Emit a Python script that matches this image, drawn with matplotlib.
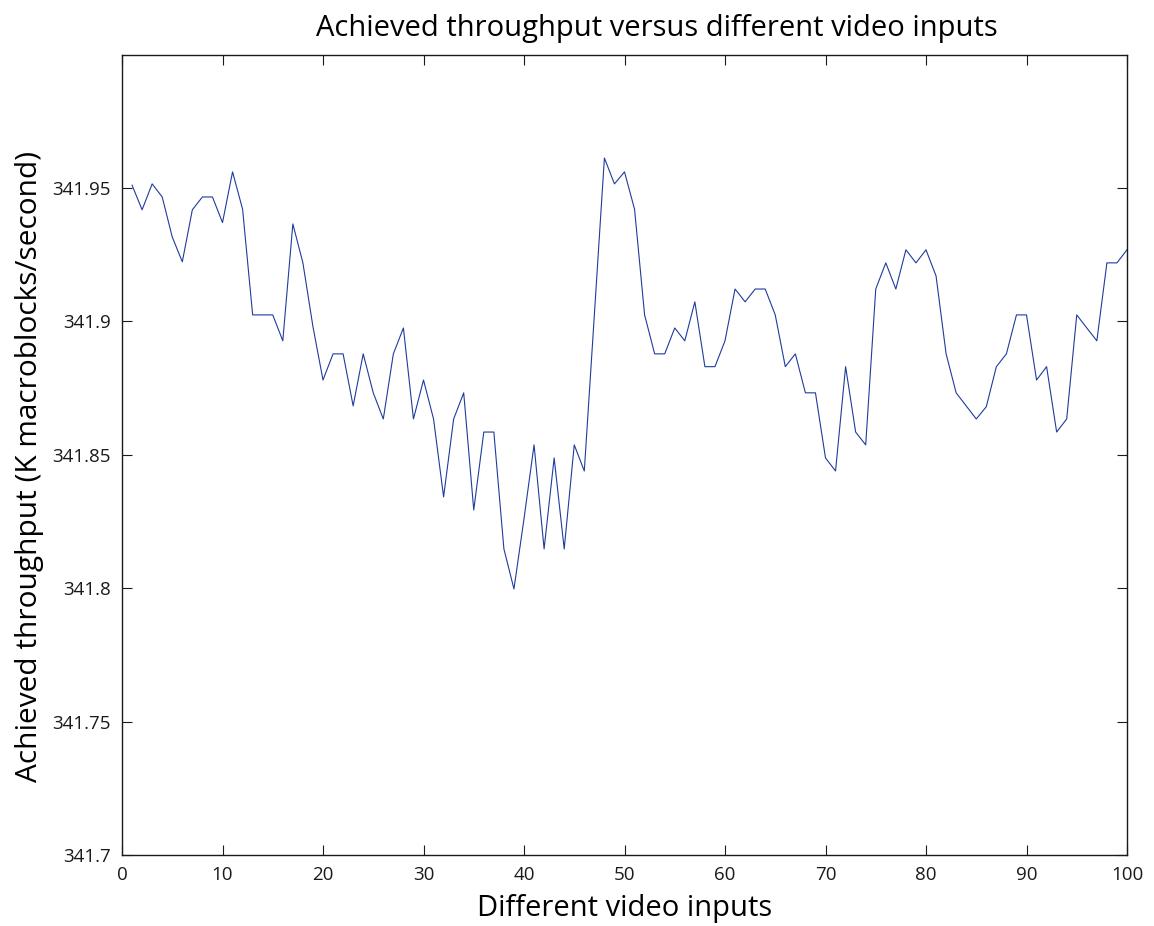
import matplotlib
matplotlib.use('Agg')
import matplotlib.pyplot as plt

video_inputs = list(range(1, 101))
throughput = [
    341.9510, 341.9418, 341.9515, 341.9466, 341.9316, 341.9223, 341.9418, 341.9466, 341.9466, 341.9370,
    341.9560, 341.9420, 341.9024, 341.9024, 341.9024, 341.8927, 341.9365, 341.9219, 341.8980, 341.8780,
    341.8878, 341.8878, 341.8683, 341.8878, 341.8732, 341.8634, 341.8878, 341.8975, 341.8634, 341.8780,
    341.8634, 341.8342, 341.8634, 341.8732, 341.8293, 341.8585, 341.8585, 341.8147, 341.7997, 341.8260,
    341.8537, 341.8147, 341.8488, 341.8147, 341.8537, 341.8439, 341.9024, 341.9612, 341.9515, 341.9560,
    341.9420, 341.9024, 341.8878, 341.8878, 341.8975, 341.8927, 341.9073, 341.8830, 341.8830, 341.8927,
    341.9121, 341.9073, 341.9121, 341.9121, 341.9024, 341.8830, 341.8878, 341.8732, 341.8732, 341.8488,
    341.8439, 341.8830, 341.8585, 341.8537, 341.9121, 341.9219, 341.9121, 341.9268, 341.9219, 341.9268,
    341.9170, 341.8878, 341.8732, 341.8683, 341.8634, 341.8680, 341.8830, 341.8878, 341.9024, 341.9024,
    341.8780, 341.8830, 341.8585, 341.8634, 341.9024, 341.8975, 341.8927, 341.9219, 341.9219, 341.9268,
]
x_ticks = [0, 10, 20, 30, 40, 50, 60, 70, 80, 90, 100]
y_ticks = [341.7, 341.75, 341.8, 341.85, 341.9, 341.95]
y_ticklabels = ['341.7', '341.75', '341.8', '341.85', '341.9', '341.95']

plt.rcParams['font.family'] = ['Open Sans', 'DejaVu Sans']

fig = plt.figure(figsize=(11.54, 9.26), dpi=100)
ax = fig.add_axes([122 / 1154, 1 - 855 / 926, (1127 - 122) / 1154, (855 - 55) / 926])

ax.plot(video_inputs, throughput, color='#1f3c9c', linewidth=0.8)

ax.set_xlim(0, 100)
ax.set_ylim(341.7, 341.9998)
ax.set_xticks(x_ticks)
ax.set_yticks(y_ticks)
ax.set_yticklabels(y_ticklabels)
ax.tick_params(direction='in', length=7.5, width=0.8, top=True, right=True,
               labelsize=13.5, pad=8, colors='#1a1a1a')
for spine in ax.spines.values():
    spine.set_linewidth(1.0)
    spine.set_color('#1a1a1a')

# title sits a little right of the axes centre in the original
ax.set_title('Achieved throughput versus different video inputs', fontsize=21, pad=14, x=0.532)
ax.set_xlabel('Different video inputs', fontsize=21, labelpad=7)
ax.set_ylabel('Achieved throughput (K macroblocks/second)', fontsize=21.5)
ax.yaxis.set_label_coords(-0.078, 0.486)

fig.savefig('out.png', dpi=100)
